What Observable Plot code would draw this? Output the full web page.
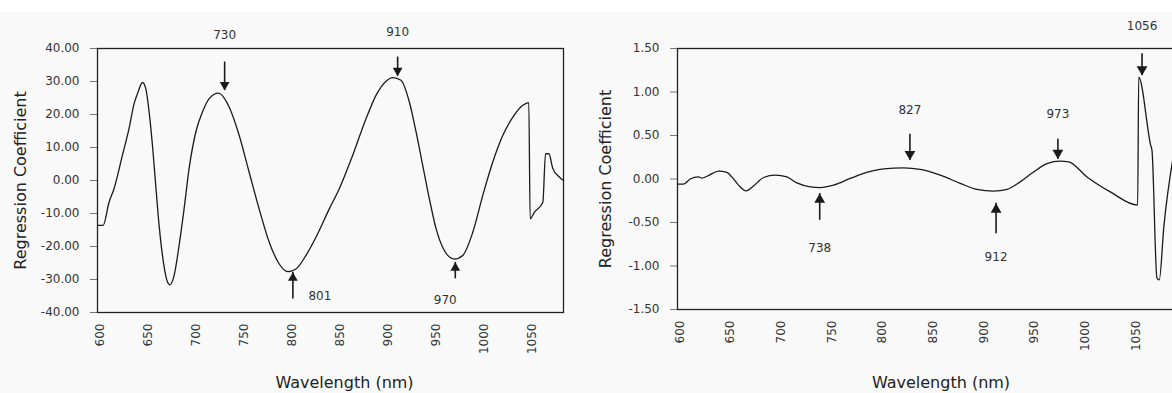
<!DOCTYPE html>
<html>
<head>
<meta charset="utf-8">
<script src="https://cdn.jsdelivr.net/npm/d3@7"></script>
<script src="https://cdn.jsdelivr.net/npm/@observablehq/plot@0.6"></script>
<style>
  html, body { margin: 0; padding: 0; background: #fff; overflow: hidden; width: 1172px; height: 393px; }
  #band { position: absolute; left: 0; top: 12px; width: 1172px; height: 381px; background: #f9f9f9; }
  #left, #right { position: absolute; top: 0; }
  #left { left: 0; width: 580px; }
  #right { left: 580px; width: 610px; }
</style>
</head>
<body>
<div id="band"></div>
<div id="left"></div>
<div id="right"></div>
<script>
// Regression coefficients across the NIR spectrum (two calibration models)

const xTicks = [600, 650, 700, 750, 800, 850, 900, 950, 1000, 1050];

// Model A
const wavelengthA = [597.7, 603.5, 609.7, 614.9, 623.6, 630.5, 635.8, 639.3, 644.5, 647.9,
  651.4, 654.9, 658.3, 661.8, 665.3, 669.5, 672.9, 677.4, 682.6, 687.8,
  693, 700, 707, 713.9, 723.6, 734.7, 745.1, 755.5, 765.9, 776.4,
  786.8, 795.5, 804.2, 814.6, 825, 838.9, 849.3, 863.2, 877.1, 887.5,
  897.9, 904.9, 913.5, 922.2, 929.2, 936.1, 943, 950, 958.6, 969,
  977.8, 988.2, 998.6, 1009, 1019.5, 1029.9, 1040.3, 1046.5, 1047.9, 1052.4,
  1061.1, 1063.9, 1067.4, 1071.5, 1078.5, 1082.6];
const coefA = [-13.6, -13.6, -6.6, -2.5, 7.6, 15.7, 23.3, 26.3, 29.7, 27.9,
  20.8, 10.6, -1.5, -13.6, -22.7, -29.8, -31.6, -28.8, -19.7, -8.6,
  3.6, 14.7, 20.8, 24.8, 26.5, 22.3, 13.7, 2.5, -8.6, -18.7,
  -25.3, -27.6, -26.8, -22.7, -17.2, -8.6, -2.5, 7.6, 18.7, 25.8,
  30.1, 31.2, 30.4, 23.8, 14.7, 4.6, -5.5, -14.6, -21.2, -23.8,
  -22.7, -15.7, -4.5, 5.6, 13.7, 19.2, 22.8, 23.6, -11.6, -9.6,
  -6.6, 8.1, 8.1, 3.6, 1.0, 0.0];
const yTicksA = [-40, -30, -20, -10, 0, 10, 20, 30, 40];
// marked wavelengths: arrow tip, arrow tail and label height (coefficient units)
const notesA = [
  {wavelength: 730, tip: 27.3, tail: 35.9, label: 44.0},
  {wavelength: 801, tip: -27.8, tail: -35.9, label: -34.9},
  {wavelength: 910, tip: 31.6, tail: 37.4, label: 45.0},
  {wavelength: 970, tip: -24.8, tail: -29.8, label: -36.4}
];

// Model B
const wavelengthB = [597.7, 603.6, 610.2, 618.4, 621.7, 628.3, 638.2, 646.4, 651.3, 657.9,
  665.4, 672.7, 682.6, 694.1, 705.6, 715.5, 728.6, 738.5, 751.7, 768.1,
  784.5, 801, 820.8, 837.2, 856.9, 876.6, 893.1, 909.6, 922.7, 935.8,
  949, 962.2, 975.3, 983.6, 1001.7, 1024.7, 1051.7, 1052.7, 1064.5, 1065.8,
  1070.7, 1073, 1077.5, 1086.5];
const coefB = [-0.06, -0.06, 0.0, 0.024, 0.01, 0.04, 0.09, 0.075, 0.024, -0.07,
  -0.137, -0.08, 0.017, 0.044, 0.024, -0.045, -0.09, -0.098, -0.07, 0.006,
  0.075, 0.116, 0.128, 0.11, 0.044, -0.05, -0.12, -0.14, -0.12, -0.033,
  0.08, 0.178, 0.205, 0.197, 0.024, -0.148, -0.30, 1.17, 0.39, 0.33,
  -1.14, -1.16, -0.55, 0.24];
const yTicksB = [-1.5, -1.0, -0.5, 0, 0.5, 1.0, 1.5];
const notesB = [
  {wavelength: 738, tip: -0.167, tail: -0.474, label: -0.80},
  {wavelength: 827, tip: 0.216, tail: 0.515, label: 0.79},
  {wavelength: 912, tip: -0.28, tail: -0.63, label: -0.90},
  {wavelength: 973, tip: 0.228, tail: 0.457, label: 0.74},
  {wavelength: 1056, tip: 1.19, tail: 1.44, label: 1.756}
];

const ink = "#1a1a1a";
const fmt = d => d.toFixed(2);

function arrowMarks(notes, r, labelShift) {
  const tipOffset = 2 * Math.sqrt((Math.PI * r * r) / (3 * Math.sqrt(3)));
  const down = notes.filter(d => d.tail > d.tip);
  const up = notes.filter(d => d.tail < d.tip);
  return [
    Plot.ruleX(notes, {x: "wavelength", y1: "tail", y2: "tip", stroke: ink, strokeWidth: 1.6}),
    Plot.dot(down, {x: "wavelength", y: "tip", symbol: "triangle", r, fill: ink, stroke: null, rotate: 180, dy: -tipOffset}),
    Plot.dot(up, {x: "wavelength", y: "tip", symbol: "triangle", r, fill: ink, stroke: null, rotate: 0, dy: tipOffset}),
    ...notes.map(n => Plot.text([n], {
      x: "wavelength", y: "label", text: d => String(d.wavelength),
      dx: labelShift[n.wavelength] ?? 0, fill: "#333", fontSize: 12
    }))
  ];
}

function panel({wavelength, coef, yDomain, yTicks, xDomain, width, marginRight, marginBottom, notes, r, labelShift, yTitleDx, xTitleDx, xTitleDy}) {
  const rows = wavelength.map((w, i) => ({w, c: coef[i]}));
  return Plot.plot({
    width, height: 393,
    marginLeft: 97, marginRight, marginTop: 48, marginBottom,
    style: {background: "transparent", fontFamily: "DejaVu Sans", fontSize: "12px", color: "#333", maxWidth: "none", overflow: "visible"},
    x: {domain: xDomain, label: null},
    y: {domain: yDomain, label: null},
    marks: [
      Plot.axisY({ticks: yTicks, tickFormat: fmt, tickSize: 7, tickPadding: 11, stroke: "#777", fill: "#333", label: null}),
      Plot.axisX({ticks: xTicks, tickFormat: d => String(d), tickSize: 0, tickPadding: 11, tickRotate: -90, fill: "#333", label: null}),
      Plot.frame({stroke: "#222", strokeWidth: 1.3}),
      Plot.line(rows, {x: "w", y: "c", curve: "monotone-x", stroke: ink, strokeWidth: 1.3}),
      ...arrowMarks(notes, r, labelShift),
      Plot.text(["Wavelength (nm)"], {text: d => d, frameAnchor: "bottom", textAnchor: "middle", lineAnchor: "middle", dx: xTitleDx, dy: xTitleDy, fontSize: 16, fill: "#222"}),
      Plot.text(["Regression Coefficient"], {text: d => d, frameAnchor: "left", textAnchor: "middle", lineAnchor: "middle", rotate: -90, dx: yTitleDx, fontSize: 16, fill: "#222"})
    ]
  });
}

document.getElementById("left").append(panel({
  wavelength: wavelengthA, coef: coefA, yDomain: [-40, 40], yTicks: yTicksA,
  xDomain: [597.7, 1082.6], width: 575, marginRight: 12, marginBottom: 81,
  notes: notesA, r: 3.6, labelShift: {730: 0, 801: 27, 970: -10},
  yTitleDx: -77, xTitleDx: 14, xTitleDy: 70
}));

document.getElementById("right").append(panel({
  wavelength: wavelengthB, coef: coefB, yDomain: [-1.5, 1.5], yTicks: yTicksB,
  xDomain: [597.7, 1090], width: 596, marginRight: 0, marginBottom: 84,
  notes: notesB, r: 4, labelShift: {},
  yTitleDx: -72, xTitleDx: 14, xTitleDy: 73
}));
</script>
</body>
</html>
